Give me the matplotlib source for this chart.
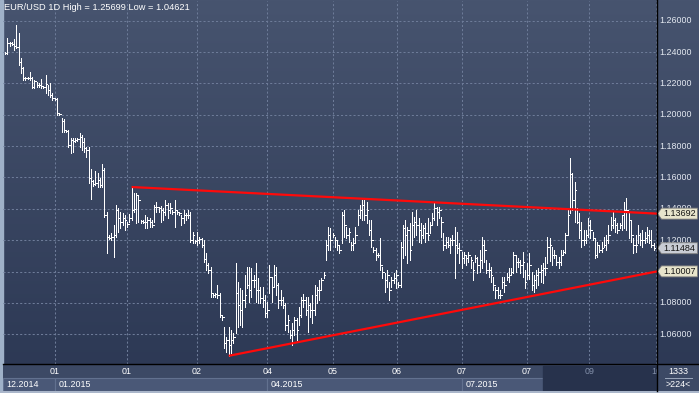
import numpy as np
import matplotlib.pyplot as plt
from matplotlib.patches import Polygon, Rectangle
from matplotlib.lines import Line2D
from matplotlib.colors import LinearSegmentedColormap

plt.rcParams['font.family'] = ['Liberation Sans', 'DejaVu Sans']

# EUR/USD daily bars (oldest first)
highs = [
    1.2400, 1.2490, 1.2464, 1.2464, 1.2483, 1.25699, 1.2521, 1.2362, 1.2305, 1.2241,
    1.2241, 1.2273, 1.2241, 1.2222, 1.2209, 1.2202, 1.2228, 1.2183, 1.2254, 1.2190,
    1.2202, 1.2139, 1.2107, 1.2107, 1.2011, 1.1979, 1.1973, 1.1903, 1.1903, 1.1852,
    1.1852, 1.1852, 1.1852, 1.1883, 1.1871, 1.1852, 1.1794, 1.1794, 1.1654, 1.1584,
    1.1641, 1.1628, 1.1596, 1.1686, 1.1660, 1.1380, 1.1233, 1.1245, 1.1297, 1.1424,
    1.1405, 1.1380, 1.1373, 1.1361, 1.1316, 1.1367,
    1.1539, 1.1501, 1.1501, 1.1488, 1.1329, 1.1329, 1.1361, 1.1348, 1.1341, 1.1329,
    1.1424, 1.1443, 1.1411, 1.1418, 1.1405, 1.1456, 1.1437, 1.1437, 1.1392, 1.1456,
    1.1392, 1.1380, 1.1361, 1.1392, 1.1373, 1.1392, 1.1380, 1.1252, 1.1201, 1.1252,
    1.1220, 1.1214, 1.1201, 1.1118, 1.1054, 1.1029, 1.0863, 1.0863, 1.0914, 1.0863,
    1.0722, 1.0646, 1.0582, 1.0646, 1.0627, 1.0607,
    1.1054, 1.0933, 1.0895, 1.0882, 1.0978, 1.1029, 1.1029, 1.1022, 1.0978, 1.1054,
    1.0958, 1.0901, 1.0901, 1.0850, 1.0805, 1.1041, 1.0965, 1.1041, 1.1029, 1.0927,
    1.0882, 1.0837, 1.0799, 1.0722, 1.0627, 1.0671, 1.0709, 1.0703, 1.0773, 1.0837,
    1.0856, 1.0837, 1.0837, 1.0799, 1.0850, 1.0914, 1.0901, 1.0946, 1.0958, 1.0997,
    1.1201, 1.1284, 1.1277, 1.1245, 1.1220, 1.1201, 1.1169, 1.1380, 1.1392, 1.1284,
    1.1277, 1.1188, 1.1214, 1.1284, 1.1392, 1.1424, 1.1456, 1.1456, 1.1443, 1.1329,
    1.1329, 1.1156, 1.1150, 1.1118, 1.1214, 1.1029, 1.0990, 1.1009, 1.0933, 1.0965,
    1.0990, 1.1009, 1.0933,
    1.1188, 1.1297, 1.1329, 1.1284, 1.1309, 1.1380, 1.1348, 1.1392, 1.1341, 1.1309,
    1.1297, 1.1309, 1.1341, 1.1316, 1.1373, 1.1437, 1.1411, 1.1411, 1.1348, 1.1245,
    1.1220, 1.1220, 1.1214, 1.1233, 1.1284, 1.1252, 1.1182, 1.1124, 1.1124, 1.1105,
    1.1124, 1.1092, 1.1060, 1.1105, 1.1092, 1.1137, 1.1220, 1.1201, 1.1073, 1.1054,
    1.1029, 1.0965, 1.0901, 1.0901, 1.0882, 1.0965, 1.0965, 1.0990, 1.1022, 1.1022,
    1.1124, 1.1105, 1.1086, 1.1073, 1.1124, 1.1009, 1.1054, 1.1118,
    1.0997, 1.0978, 1.1009, 1.1022, 1.1041,
    1.1054, 1.1092, 1.1220, 1.1214, 1.1156, 1.1137, 1.1105, 1.1092, 1.1137, 1.1137,
    1.1245, 1.1392, 1.1724, 1.1628, 1.1571, 1.1405, 1.1373, 1.1316, 1.1265, 1.1265,
    1.1341, 1.1329, 1.1252, 1.1214, 1.1188, 1.1169, 1.1188, 1.1220, 1.1233, 1.1297,
    1.1348, 1.1380, 1.1341, 1.1309, 1.1309, 1.1361, 1.1443, 1.1469, 1.1380, 1.1329,
    1.1214, 1.1233, 1.1297, 1.1245, 1.1265, 1.1252, 1.1284, 1.1265, 1.1265, 1.1182,
]
lows = [
    1.2387, 1.2387, 1.2439, 1.2445, 1.2413, 1.2426, 1.2317, 1.2266, 1.2222, 1.2222,
    1.2228, 1.2222, 1.2171, 1.2171, 1.2177, 1.2177, 1.2171, 1.2171, 1.2139, 1.2126,
    1.2113, 1.2094, 1.2094, 1.1998, 1.1998, 1.1890, 1.1890, 1.1890, 1.1794, 1.1756,
    1.1762, 1.1826, 1.1832, 1.1794, 1.1775, 1.1762, 1.1730, 1.1564, 1.1462, 1.1545,
    1.1552, 1.1539, 1.1539, 1.1539, 1.1348, 1.1118, 1.1207, 1.1201, 1.1092, 1.1220,
    1.1252, 1.1277, 1.1297, 1.1265, 1.1284, 1.1316,
    1.1329, 1.1380, 1.1309, 1.1316, 1.1309, 1.1309, 1.1277, 1.1277, 1.1284, 1.1284,
    1.1316, 1.1380, 1.1380, 1.1316, 1.1329, 1.1361, 1.1341, 1.1373, 1.1367, 1.1284,
    1.1367, 1.1361, 1.1297, 1.1309, 1.1329, 1.1341, 1.1188, 1.1182, 1.1182, 1.1169,
    1.1182, 1.1156, 1.1060, 1.1009, 1.0990, 1.0837, 1.0837, 1.0837, 1.0831, 1.0709,
    1.0690, 1.0512, 1.0486, 1.04621, 1.0480, 1.0544,
    1.0607, 1.0646, 1.0659, 1.0646, 1.0773, 1.0895, 1.0805, 1.0837, 1.0901, 1.0805,
    1.0799, 1.0799, 1.0773, 1.0709, 1.0709, 1.0863, 1.0805, 1.0901, 1.0850, 1.0767,
    1.0786, 1.0767, 1.0627, 1.0614, 1.0576, 1.0531, 1.0595, 1.0563, 1.0659, 1.0709,
    1.0773, 1.0722, 1.0614, 1.0709, 1.0671, 1.0722, 1.0799, 1.0818, 1.0882, 1.0958,
    1.1073, 1.1137, 1.1137, 1.1220, 1.1156, 1.1137, 1.1118, 1.1182, 1.1220, 1.1214,
    1.1188, 1.1137, 1.1137, 1.1188, 1.1297, 1.1341, 1.1329, 1.1329, 1.1309, 1.1233,
    1.1156, 1.1124, 1.1073, 1.1092, 1.1009, 1.0958, 1.0869, 1.0901, 1.0818, 1.0901,
    1.0927, 1.0895, 1.0901,
    1.0901, 1.1086, 1.1105, 1.1054, 1.1073, 1.1169, 1.1220, 1.1233, 1.1188, 1.1182,
    1.1214, 1.1188, 1.1201, 1.1245, 1.1297, 1.1329, 1.1297, 1.1341, 1.1220, 1.1137,
    1.1150, 1.1156, 1.1118, 1.1169, 1.0958, 1.1118, 1.1054, 1.1022, 1.1054, 1.1041,
    1.1060, 1.1022, 1.0946, 1.1060, 1.0990, 1.0997, 1.1022, 1.1060, 1.0990, 1.0965,
    1.0933, 1.0882, 1.0831, 1.0831, 1.0831, 1.0895, 1.0869, 1.0946, 1.0933, 1.0978,
    1.0990, 1.0997, 1.1029, 1.0990, 1.0965, 1.0895, 1.0952, 1.0952,
    1.0882, 1.0869, 1.0895, 1.0914, 1.0933,
    1.0927, 1.0978, 1.1054, 1.1067, 1.1041, 1.1086, 1.1041, 1.1022, 1.1041, 1.1105,
    1.1118, 1.1233, 1.1373, 1.1392, 1.1316, 1.1309, 1.1214, 1.1156, 1.1169, 1.1182,
    1.1220, 1.1214, 1.1201, 1.1086, 1.1092, 1.1124, 1.1124, 1.1156, 1.1137, 1.1182,
    1.1265, 1.1277, 1.1252, 1.1245, 1.1277, 1.1265, 1.1277, 1.1265, 1.1214, 1.1188,
    1.1118, 1.1124, 1.1182, 1.1169, 1.1156, 1.1182, 1.1188, 1.1182, 1.1156, 1.1137,
]
closes = [
    1.2394, 1.2458, 1.2458, 1.2451, 1.2439, 1.2432, 1.2336, 1.2298, 1.2234, 1.2234,
    1.2234, 1.2234, 1.2177, 1.2215, 1.2190, 1.2190, 1.2183, 1.2177, 1.2196, 1.2158,
    1.2126, 1.2107, 1.2100, 1.2011, 1.2005, 1.1960, 1.1903, 1.1896, 1.1807, 1.1839,
    1.1832, 1.1839, 1.1845, 1.1858, 1.1826, 1.1788, 1.1775, 1.1596, 1.1577, 1.1558,
    1.1564, 1.1584, 1.1552, 1.1648, 1.1361, 1.1220, 1.1214, 1.1220, 1.1233, 1.1392,
    1.1341, 1.1316, 1.1341, 1.1329, 1.1303, 1.1341,
    1.1392, 1.1399, 1.1488, 1.1456, 1.1322, 1.1316, 1.1316, 1.1329, 1.1316, 1.1297,
    1.1411, 1.1411, 1.1405, 1.1392, 1.1380, 1.1424, 1.1392, 1.1405, 1.1380, 1.1392,
    1.1380, 1.1373, 1.1341, 1.1361, 1.1361, 1.1361, 1.1201, 1.1233, 1.1194, 1.1201,
    1.1207, 1.1169, 1.1080, 1.1041, 1.1009, 1.0863, 1.0850, 1.0856, 1.0850, 1.0722,
    1.0709, 1.0544, 1.0563, 1.0531, 1.0563, 1.0582,
    1.0863, 1.0786, 1.0754, 1.0818, 1.0850, 1.0914, 1.0882, 1.0946, 1.0946, 1.0882,
    1.0882, 1.0831, 1.0818, 1.0735, 1.0754, 1.0965, 1.0901, 1.0978, 1.0914, 1.0818,
    1.0818, 1.0786, 1.0659, 1.0690, 1.0595, 1.0627, 1.0690, 1.0627, 1.0722, 1.0818,
    1.0818, 1.0754, 1.0786, 1.0754, 1.0754, 1.0850, 1.0882, 1.0882, 1.0946, 1.0978,
    1.1169, 1.1233, 1.1201, 1.1233, 1.1201, 1.1169, 1.1137, 1.1361, 1.1297, 1.1233,
    1.1252, 1.1169, 1.1182, 1.1233, 1.1361, 1.1392, 1.1424, 1.1361, 1.1392, 1.1265,
    1.1201, 1.1137, 1.1105, 1.1105, 1.1041, 1.0997, 1.0946, 1.0978, 1.0882, 1.0946,
    1.0958, 1.0978, 1.0914,
    1.1156, 1.1277, 1.1233, 1.1265, 1.1137, 1.1297, 1.1316, 1.1297, 1.1265, 1.1233,
    1.1277, 1.1245, 1.1233, 1.1297, 1.1341, 1.1405, 1.1380, 1.1392, 1.1316, 1.1169,
    1.1188, 1.1169, 1.1201, 1.1201, 1.1169, 1.1150, 1.1137, 1.1086, 1.1105, 1.1086,
    1.1105, 1.1073, 1.1009, 1.1086, 1.1041, 1.1073, 1.1169, 1.1137, 1.1009, 1.1009,
    1.0978, 1.0914, 1.0882, 1.0850, 1.0850, 1.0933, 1.0914, 1.0965, 1.0978, 1.0997,
    1.1105, 1.1060, 1.1060, 1.1041, 1.1060, 1.0933, 1.0978, 1.1041,
    1.0914, 1.0946, 1.0978, 1.0997, 1.1009,
    1.1022, 1.1022, 1.1156, 1.1169, 1.1105, 1.1105, 1.1060, 1.1060, 1.1105, 1.1124,
    1.1233, 1.1361, 1.1622, 1.1456, 1.1520, 1.1316, 1.1265, 1.1201, 1.1201, 1.1233,
    1.1297, 1.1265, 1.1214, 1.1105, 1.1169, 1.1137, 1.1150, 1.1169, 1.1201, 1.1233,
    1.1297, 1.1329, 1.1297, 1.1265, 1.1297, 1.1361, 1.1392, 1.1392, 1.1329, 1.1233,
    1.1169, 1.1169, 1.1233, 1.1201, 1.1201, 1.1214, 1.1233, 1.1201, 1.1169, 1.11484,
]

title = "EUR/USD 1D High = 1.25699 Low = 1.04621"
# 1.10000 sits fully behind the 1.10007 tag, so it is not written
price_ticks = [1.06, 1.08, 1.10, 1.12, 1.14, 1.16, 1.18, 1.20, 1.22, 1.24, 1.26]
price_labels = [1.06, 1.08, 1.12, 1.14, 1.16, 1.18, 1.20, 1.22, 1.24, 1.26]

# month boundaries, in bar numbers
month_pos = [22, 54, 85, 116, 145, 173.5, 202, 231, 258.5, 288]
month_labels = ['01', '01', '02', '04', '05', '06', '07', '07', '09', '10']
period_labels = ['12.2014', '01.2015', '04.2015', '07.2015']
period_start = [-0.9, 22, 116, 202]
period_end = [22, 116, 202, 238]
scroll_start = 238

# trend lines: start (bar, price) and price at the right edge
upper_start = (56, 1.1539)
upper_end = 1.13692
lower_start = (99, 1.04621)
lower_end = 1.10007
last_price = 1.11484
bar_count_text = ['1333', '>224<']

n = len(closes)
x = np.arange(n)
xl, xr = -0.9, 288.5
yl, yh = 1.04099, 1.27257

W, H = 699, 393


def box(x0, y0, x1, y1):
    return [x0 / W, 1 - y1 / H, (x1 - x0) / W, (y1 - y0) / H]


fig = plt.figure(figsize=(W / 100, H / 100), dpi=100)

# background gradient
bg = fig.add_axes([0, 0, 1, 1])
grad = np.linspace(0, 1, 256).reshape(-1, 1)
bg.imshow(grad, aspect='auto', extent=[0, 1, 0, 1],
          cmap=LinearSegmentedColormap.from_list('bg', ['#47546f', '#2b3753']))
bg.add_patch(Rectangle((0, 0), 3 / W, 1, color='#9fb1c8'))
bg.add_patch(Rectangle((0, 0), 1, 2 / H, color='#aab6ca'))
bg.set_xlim(0, 1)
bg.set_ylim(0, 1)
bg.set_axis_off()

# price panel
ax = fig.add_axes(box(3, 1, 657, 364))
ax.patch.set_alpha(0)
ax.set_xlim(xl, xr)
ax.set_ylim(yl, yh)
ax.set_yticks(price_ticks)
ax.set_xticks(month_pos)
ax.tick_params(length=0, labelleft=False, labelbottom=False)
ax.grid(True, color='#6d7b98', lw=0.75, ls=(0, (2, 2)))
for s in ax.spines.values():
    s.set_visible(False)

ax.vlines(x, lows, highs, colors='white', lw=0.72, antialiased=False, zorder=3)
ax.hlines(closes, x, x + 0.7, colors='white', lw=0.72, antialiased=False, zorder=3)

ax.plot([upper_start[0], xr], [upper_start[1], upper_end], color='#ff0a0a',
        lw=1.6, solid_capstyle='butt', zorder=4)
ax.plot([lower_start[0], xr], [lower_start[1], lower_end], color='#ff0a0a',
        lw=1.6, solid_capstyle='butt', zorder=4)

fig.text(4 / W, 1 - 8 / H, title, ha='left', va='center', fontsize=6.7, color='white')

# right price scale
rax = fig.add_axes(box(657, 1, 699, 364))
rax.set_xlim(0, 42)
rax.set_ylim(yl, yh)
rax.set_axis_off()
for v in price_labels:
    rax.text(2.5, v, f'{v:.5f}', ha='left', va='center', fontsize=6.4, color='#e4e9f1')

h = 0.0035
for p, face in [(upper_end, '#e7e4cb'), (last_price, '#c9cdd5'), (lower_end, '#e7e4cb')]:
    pts = [(0.5, p), (4.5, p + h), (40.5, p + h), (40.5, p - h), (4.5, p - h)]
    rax.add_patch(Polygon(pts, closed=True, fc=face, ec='#7d7d7d', lw=0.6, zorder=5))
    rax.text(6, p, f'{p:.5f}', ha='left', va='center', fontsize=6.5,
             color='#151515', zorder=6)

# time scale
bax = fig.add_axes(box(3, 364, 657, 391))
bax.set_xlim(xl, xr)
bax.set_ylim(27, 0)
bax.set_axis_off()
bax.add_patch(Rectangle((xl, 0), xr - xl, 27, color='#3c4965'))
for lab, s, e in zip(period_labels, period_start, period_end):
    bax.add_patch(Rectangle((s, 13.5), e - s, 13.5, fc='#4a5877', ec='#62718f', lw=0.8))
    bax.text(s + 1.6, 20.5, lab, ha='left', va='center', fontsize=6.4, color='white')
bax.add_patch(Rectangle((scroll_start, 2), xr - scroll_start, 25, color='#27324c'))
for pos, lab in zip(month_pos, month_labels):
    col = '#8390aa' if pos > scroll_start else 'white'
    bax.text(pos, 8, lab, ha='center', va='center', fontsize=6.4, color=col)

cax = fig.add_axes(box(657, 364, 699, 391))
cax.set_xlim(0, 42)
cax.set_ylim(27, 0)
cax.set_axis_off()
cax.add_patch(Rectangle((0, 0), 42, 27, color='#3c4965'))
cax.text(21, 8, bar_count_text[0], ha='center', va='center', fontsize=6.4, color='white')
cax.plot([8, 35], [14, 14], color='#9aa6bb', lw=0.7)
cax.text(21, 20.5, bar_count_text[1], ha='center', va='center', fontsize=6.4, color='white')

fig.add_artist(Line2D([657 / W, 657 / W], [2 / H, 1], color='black', lw=1))
fig.add_artist(Line2D([3 / W, 1], [1 - 364 / H, 1 - 364 / H], color='black', lw=1))

fig.savefig('out.png', dpi=100)
